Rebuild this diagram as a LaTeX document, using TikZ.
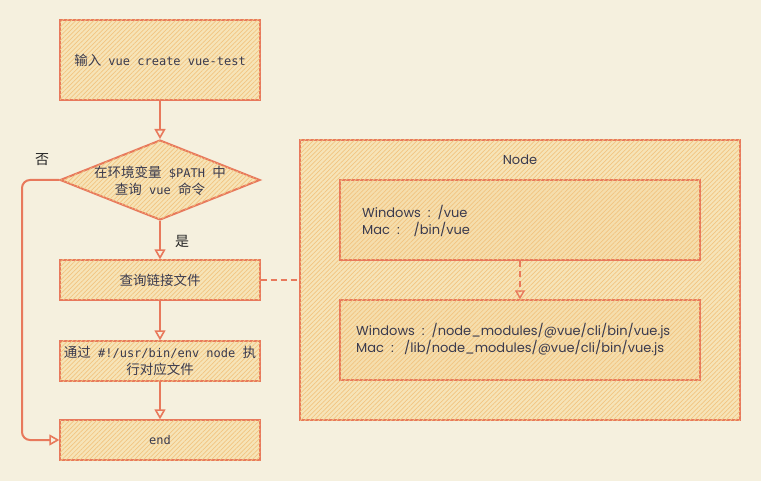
\documentclass[tikz,border=0pt]{standalone}
\usepackage{fontspec}
\setmainfont{Poppins}
\newfontfamily\cjk{Noto Sans CJK SC}
\newfontfamily\monof{DejaVu Sans Mono}
\newcommand\zh[1]{{\cjk\fontsize{13.5}{17}\selectfont #1}}
\usetikzlibrary{arrows.meta,patterns.meta,shapes.geometric}
\definecolor{bg}{HTML}{F5F0DE}
\definecolor{edge}{HTML}{E8795C}
\definecolor{fillc}{HTML}{F6E4B8}
\definecolor{hatch}{HTML}{F2C480}
\definecolor{txt}{HTML}{3A3A4E}
\tikzset{
  hatched/.style={fill=fillc, postaction={pattern={Lines[angle=45,distance=3.2pt,line width=0.7pt]}, pattern color=hatch}},
  box/.style={draw=edge, line width=1.3pt, hatched, inner sep=0pt, minimum width=200pt, text=txt, font=\monof\fontsize{12}{17}\selectfont, align=center},
  dia/.style={diamond, draw=edge, line width=2pt, hatched, inner sep=0pt, minimum width=200pt, minimum height=80pt},
  lbl/.style={text=txt, font=\monof\fontsize{12}{17}\selectfont, align=center, inner sep=0pt},
  plbl/.style={text=txt, font=\fontsize{13}{17}\selectfont, align=left, inner sep=0pt},
  yesno/.style={text=black!85, inner sep=0pt, font=\cjk\fontsize{14}{17}\selectfont},
  inbox/.style={draw=edge, line width=1.3pt, fill=fillc!80!hatch, postaction={pattern={Lines[angle=45,distance=3.2pt,line width=0.7pt]}, pattern color=hatch}, inner sep=0pt, minimum width=360pt, minimum height=80pt},
  arr/.style={draw=edge, line width=2pt, -{Triangle[open,length=10pt,width=11pt,line width=1.6pt]}},
  dsh/.style={draw=edge, line width=1.6pt, dash pattern=on 6pt off 4pt},
}
\begin{document}
\begin{tikzpicture}[x=1pt,y=-1pt]
\fill[bg] (0,0) rectangle (761,481);
\useasboundingbox (0,0) rectangle (761,481);
% flow column
\node[box, minimum height=80pt] (b1) at (160,60) {\zh{输入} vue create vue-test};
\node[dia] (d) at (160,180) {};
\node[lbl] (dt) at (160,181) {\zh{在环境变量} \$PATH \zh{中}\\\zh{查询} vue \zh{命令}};
\node[box, minimum height=40pt] (b2) at (160,280) {\zh{查询链接文件}};
\node[box, minimum height=40pt] (b3) at (160,361) {\zh{通过} \#!/usr/bin/env node \zh{执}\\\zh{行对应文件}};
\node[box, minimum height=40pt] (b4) at (160,440) {end};
\node[yesno] (yes) at (182,241) {是};
\node[yesno] (no) at (42,160) {否};
\coordinate (c1) at (22,180);
\coordinate (c2) at (22,440);
\draw[arr] (b1.south) -- (d.north);
\draw[arr] (d.south) -- (b2.north);
\draw[arr] (b2.south) -- (b3.north);
\draw[arr] (b3.south) -- (b4.north);
\draw[arr, rounded corners=8pt] (d.west) -- (c1) -- (c2) -- (b4.west);
% Node container
\node[draw=edge, line width=1.3pt, hatched, minimum width=440pt, minimum height=280pt, inner sep=0pt] (n) at (520,280) {};
\node[plbl] (nt) at (520,160) {Node};
\node[inbox] (i1) at (520,220) {};
\node[inbox] (i2) at (520,340) {};
\node[plbl, anchor=west] (i1t) at (362,221) {Windows\ \ :\ \ /vue\\Mac\ \ :\ \ \ \ /bin/vue};
\node[plbl, anchor=west] (i2t) at (356,340) {Windows\ \ :\ \ /node\_modules/@vue/cli/bin/vue.js\\Mac\ \ :\ \ \ /lib/node\_modules/@vue/cli/bin/vue.js};
\draw[dsh] (b2.east) -- (n.west);
\draw[dsh, -{Triangle[open,length=9pt,width=10pt,line width=1.4pt]}, line width=1.6pt] (i1.south) -- (i2.north);
\end{tikzpicture}
\end{document}
